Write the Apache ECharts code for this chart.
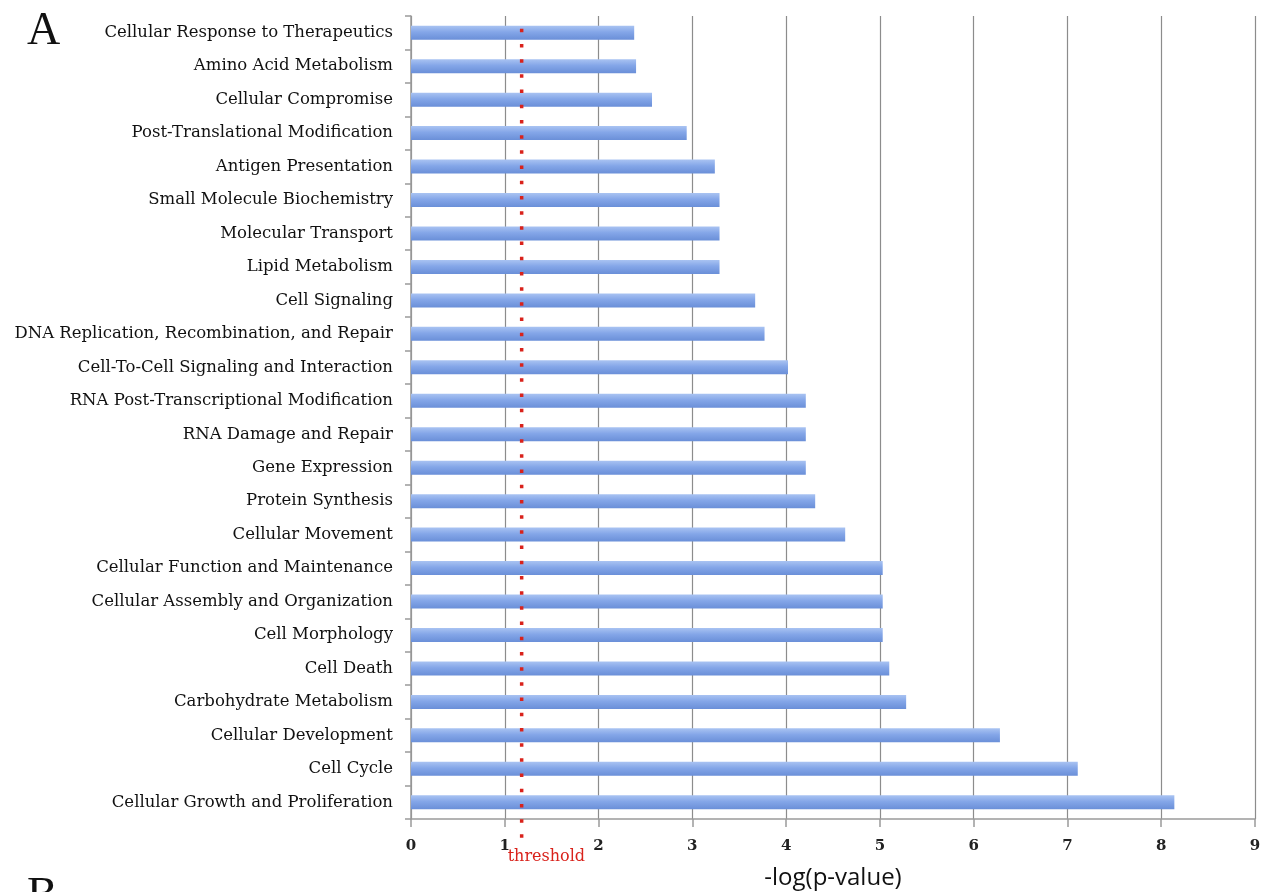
<!DOCTYPE html>
<html>
<head>
<meta charset="utf-8">
<script src="https://cdn.jsdelivr.net/npm/echarts@6/dist/echarts.min.js"></script>
<style>html,body{margin:0;padding:0;background:#fff;}#chart{width:1269px;height:892px;}</style>
</head>
<body>
<div id="chart"></div>
<script>
const categories = [
  "Cellular Response to Therapeutics",
  "Amino Acid Metabolism",
  "Cellular Compromise",
  "Post-Translational Modification",
  "Antigen Presentation",
  "Small Molecule Biochemistry",
  "Molecular Transport",
  "Lipid Metabolism",
  "Cell Signaling",
  "DNA Replication, Recombination, and Repair",
  "Cell-To-Cell Signaling and Interaction",
  "RNA Post-Transcriptional Modification",
  "RNA Damage and Repair",
  "Gene Expression",
  "Protein Synthesis",
  "Cellular Movement",
  "Cellular Function and Maintenance",
  "Cellular Assembly and Organization",
  "Cell Morphology",
  "Cell Death",
  "Carbohydrate Metabolism",
  "Cellular Development",
  "Cell Cycle",
  "Cellular Growth and Proliferation"
];
const values = [2.38, 2.40, 2.57, 2.94, 3.24, 3.29, 3.29, 3.29, 3.67, 3.77, 4.02, 4.21, 4.21, 4.21, 4.31, 4.63, 5.03, 5.03, 5.03, 5.10, 5.28, 6.28, 7.11, 8.14];
const threshold = 1.18;
const xTicks = [0, 1, 2, 3, 4, 5, 6, 7, 8, 9];
const xTitle = "-log(p-value)";
const thresholdLabel = "threshold";

const chart = echarts.init(document.getElementById('chart'), null, {renderer: 'canvas'});
const serif = "DejaVu Serif";
const option = {
  animation: false,
  backgroundColor: '#ffffff',
  grid: {left: 411, right: 14, top: 16, bottom: 73, containLabel: false, outerBoundsMode: 'none'},
  xAxis: {
    type: 'value', min: xTicks[0], max: xTicks[xTicks.length - 1], interval: 1,
    axisLine: {show: true, lineStyle: {color: '#9a9a9a', width: 1.5}},
    axisTick: {show: true, length: 8, lineStyle: {color: '#9a9a9a', width: 1.5}},
    splitLine: {show: true, lineStyle: {color: '#8c8c8c', width: 1.2}},
    axisLabel: {fontFamily: serif, fontSize: 15, color: '#222', margin: 20, fontWeight: 'bold'},
    name: xTitle, nameLocation: 'middle', nameGap: 47,
    nameTextStyle: {fontFamily: 'Open Sans', fontSize: 24, color: '#111'}
  },
  yAxis: {
    type: 'category', data: categories, inverse: true,
    axisLine: {show: true, lineStyle: {color: '#9a9a9a', width: 1.5}},
    axisTick: {show: true, length: 6, lineStyle: {color: '#9a9a9a', width: 1.5}},
    splitLine: {show: false},
    axisLabel: {fontFamily: serif, fontSize: 16.5, color: '#111', margin: 18}
  },
  series: [{
    type: 'bar', data: values, barWidth: 14,
    itemStyle: {
      color: new echarts.graphic.LinearGradient(0, 0, 0, 1, [
        {offset: 0, color: '#a9c3f2'},
        {offset: 0.45, color: '#84a6e8'},
        {offset: 1, color: '#6a8fd8'}
      ]),
      shadowColor: 'rgba(0,0,0,0.35)', shadowBlur: 3, shadowOffsetY: 2, shadowOffsetX: 1
    }
  }]
};
chart.setOption(option);

const tx = chart.convertToPixel({xAxisIndex: 0}, threshold);
const yTop = chart.convertToPixel({yAxisIndex: 0}, categories[0]) - 4;
const yBottom = 840;
chart.setOption({
  graphic: [
    {type: 'line', z: 100, shape: {x1: tx, y1: yTop, x2: tx, y2: yBottom},
     style: {stroke: '#d9221b', lineWidth: 3.5, lineDash: [3.5, 11.7], lineCap: 'butt'}},
    {type: 'text', z: 100, left: tx - 14, top: 849,
     style: {text: thresholdLabel, fill: '#d9221b', font: '16px "DejaVu Serif"'}},
    {type: 'text', left: 27, top: 9, style: {text: 'A', fill: '#111', font: '46px "Liberation Serif"'}},
    {type: 'text', left: 27, top: 874, style: {text: 'B', fill: '#111', font: '46px "Liberation Serif"'}}
  ]
});
</script>
</body>
</html>
